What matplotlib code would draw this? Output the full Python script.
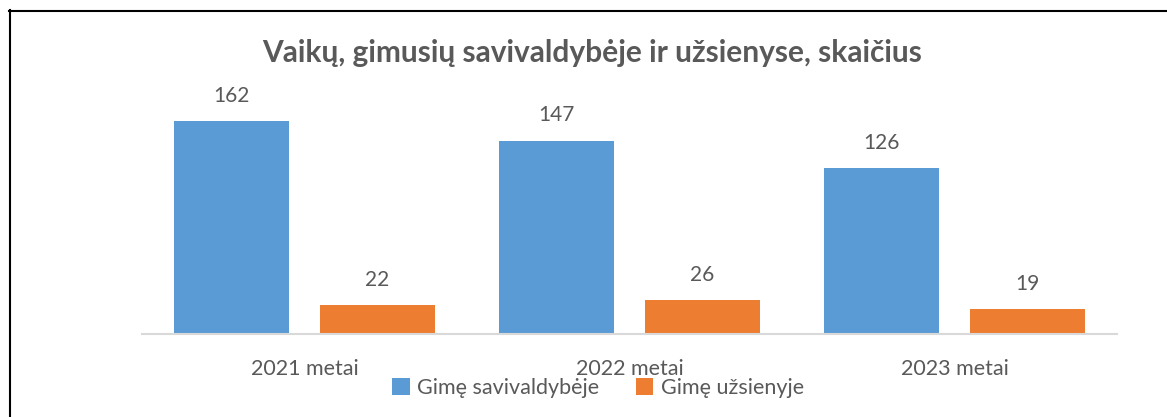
import matplotlib
matplotlib.use("Agg")
import matplotlib.pyplot as plt
import numpy as np

categories = ["2021 metai", "2022 metai", "2023 metai"]
born_local = [162, 147, 126]
born_abroad = [22, 26, 19]
series_names = ["Gimę savivaldybėje", "Gimę užsienyje"]

BLUE, ORANGE, GRAY = "#5B9BD5", "#ED7D31", "#595959"
plt.rcParams["font.family"] = ["Lato", "DejaVu Sans"]

W, H = 1167, 417
fig = plt.figure(figsize=(W / 100, H / 100), dpi=100)
# plot area in pixel terms: x 142..1117, baseline y=334, top y=71
ax = fig.add_axes([142 / W, (H - 334) / H, 975 / W, (334 - 71) / H])

x = np.arange(len(categories))
bw = 115 / 325
off = (31 / 2 + 115 / 2) / 325
b1 = ax.bar(x - off, born_local, bw, color=BLUE, label=series_names[0])
b2 = ax.bar(x + off, born_abroad, bw, color=ORANGE, label=series_names[1])
for bars in (b1, b2):
    ax.bar_label(bars, padding=11, fontsize=15, color=GRAY)

ax.set_xlim(-0.5, 2.5)
ax.set_ylim(0, 200)
ax.set_yticks([])
ax.set_xticks(x, categories, fontsize=15.5, color=GRAY)
ax.tick_params(axis="x", length=0, pad=18)
for s in ("left", "right", "top"):
    ax.spines[s].set_visible(False)
ax.spines["bottom"].set_color("#D9D9D9")
ax.spines["bottom"].set_linewidth(1.5)

fig.text(592 / W, 1 - 53 / H, "Vaikų, gimusių savivaldybėje ir užsienyse, skaičius",
         ha="center", va="center", fontsize=21.5, fontweight="bold", color=GRAY)

fig.legend(loc="center", bbox_to_anchor=(598 / W, 1 - 388 / H), ncol=2, frameon=False,
           fontsize=15.5, labelcolor=GRAY, handlelength=0.8, handleheight=0.8,
           handletextpad=0.35, columnspacing=1.7, borderpad=0)

# outer border (left and top edges visible)
fig.add_artist(plt.Line2D([9.5 / W, 9.5 / W], [0, 1 - 10 / H], color="black", lw=1.5,
                          transform=fig.transFigure))
fig.add_artist(plt.Line2D([9 / W, 1], [1 - 10.5 / H, 1 - 10.5 / H], color="black", lw=1.5,
                          transform=fig.transFigure))

fig.savefig("out.png", dpi=100)
